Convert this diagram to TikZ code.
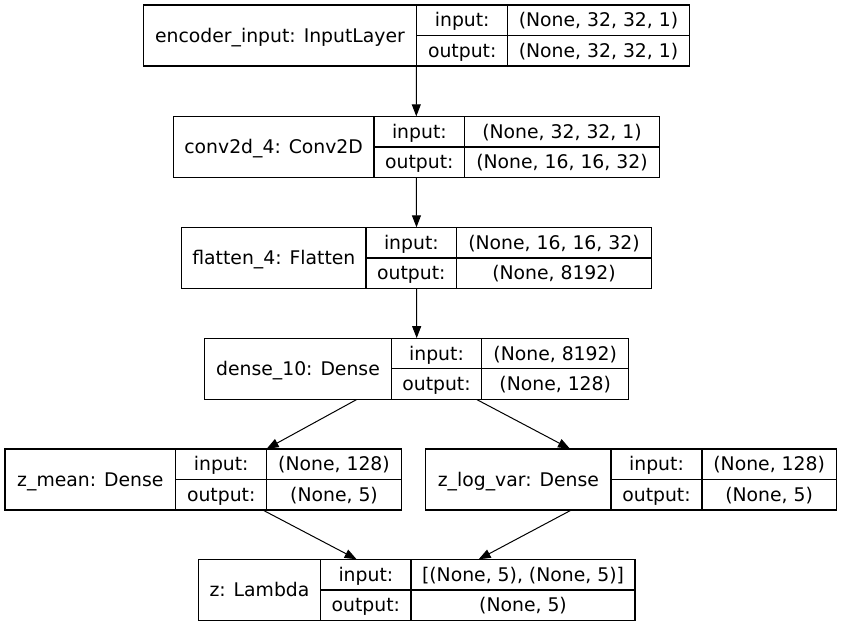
\documentclass[tikz,border=0pt]{standalone}
\usepackage{fontspec}
\setmainfont{DejaVu Sans}
\usetikzlibrary{arrows.meta,fit}
\tikzset{
  cell/.style={draw, line width=1.1pt, inner sep=0pt, outer sep=0pt,
    minimum height=30.5pt, text height=17.4pt, text depth=4.4pt,
    font=\fontsize{18.8}{22}\selectfont},
  arr/.style={-{Triangle[length=12pt,width=9pt]}, line width=1pt},
}
% one keras layer: id, left, top, three widths, name, input, output
\newcommand{\layerbox}[9]{%
  \node[cell, minimum width=#4pt, minimum height=61pt, anchor=north west] (#1name) at (#2,#3) {#7};
  \node[cell, minimum width=#5pt, anchor=north west] (#1in) at (#1name.north east) {input:};
  \node[cell, minimum width=#5pt, anchor=north west] (#1out) at (#1in.south west) {output:};
  \node[cell, minimum width=#6pt, anchor=north west] (#1inv) at (#1in.north east) {#8};
  \node[cell, minimum width=#6pt, anchor=north west] (#1outv) at (#1out.north east) {#9};
  \node[fit=(#1name)(#1outv), inner sep=0pt] (#1) {};
}

\begin{document}
\begin{tikzpicture}[x=1pt,y=-1pt]
  \useasboundingbox (0,0) rectangle (842,627);
  \layerbox{enc}{143.3}{5}{273.4}{91}{181.6}{encoder\_input: InputLayer}{(None, 32, 32, 1)}{(None, 32, 32, 1)}
  \layerbox{conv}{173.3}{116.5}{200.7}{90.7}{194.6}{conv2d\_4: Conv2D}{(None, 32, 32, 1)}{(None, 16, 16, 32)}
  \layerbox{flat}{181.7}{227.5}{184.3}{90.7}{194.6}{flatten\_4: Flatten}{(None, 16, 16, 32)}{(None, 8192)}
  \layerbox{dense}{204.7}{338.3}{186.6}{90.4}{147}{dense\_10: Dense}{(None, 8192)}{(None, 128)}
  \layerbox{zmean}{5}{449}{170.7}{91}{134.6}{z\_mean: Dense}{(None, 128)}{(None, 5)}
  \layerbox{zlogvar}{425.7}{449}{185.3}{91}{134.3}{z\_log\_var: Dense}{(None, 128)}{(None, 5)}
  \layerbox{z}{198.3}{559.5}{122.4}{90.3}{224}{z: Lambda}{[(None, 5), (None, 5)]}{(None, 5)}

  \draw[arr] (enc.south) -- (conv.north);
  \draw[arr] (conv.south) -- (flat.north);
  \draw[arr] (flat.south) -- (dense.north);
  \draw[arr] ([xshift=-60pt]dense.south) -- ([xshift=63.5pt]zmean.north);
  \draw[arr] ([xshift=60pt]dense.south) -- ([xshift=-61pt]zlogvar.north);
  \draw[arr] ([xshift=60pt]zmean.south) -- ([xshift=-60pt]z.north);
  \draw[arr] ([xshift=-60pt]zlogvar.south) -- ([xshift=62pt]z.north);
\end{tikzpicture}
\end{document}
